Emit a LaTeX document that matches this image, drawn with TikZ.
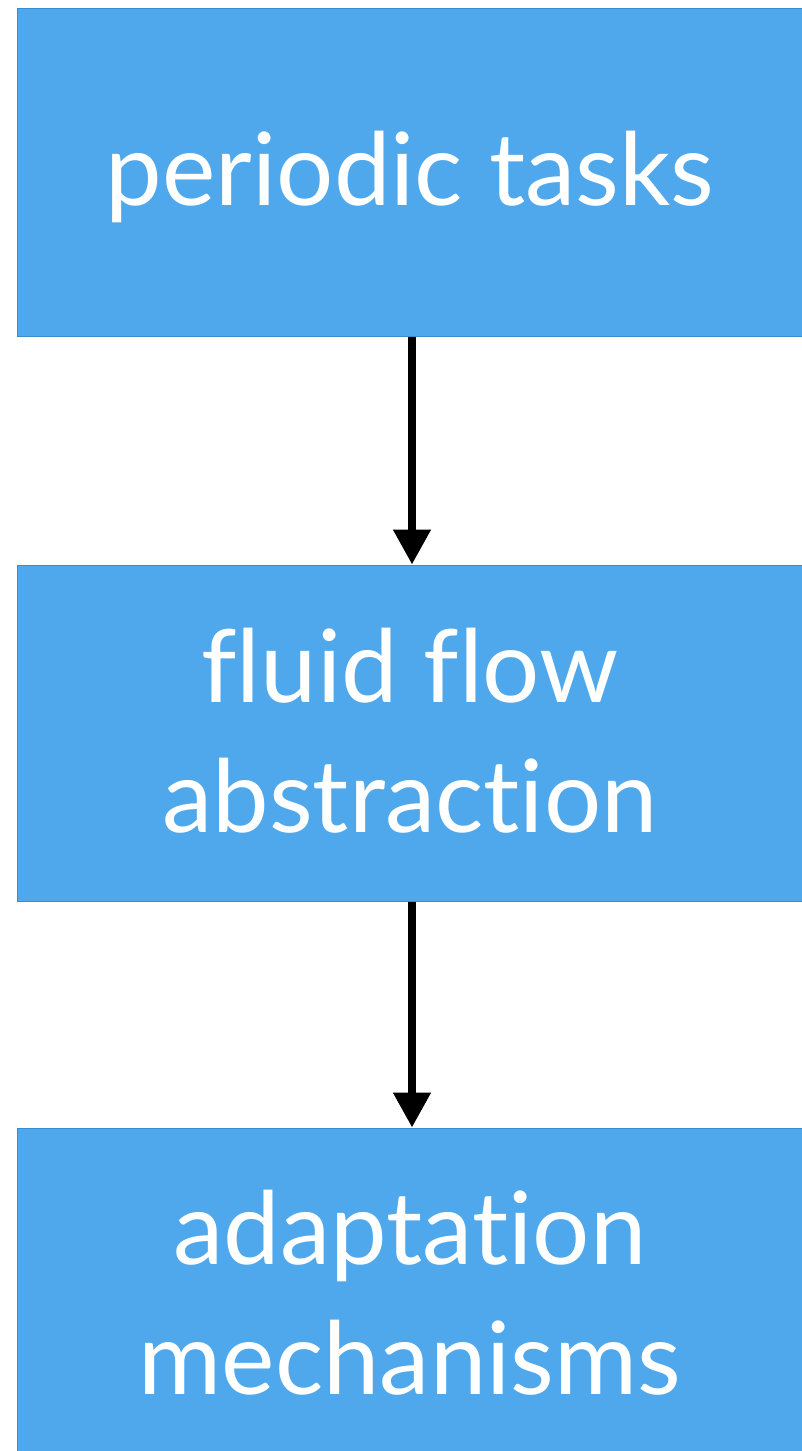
\documentclass[tikz,border=0pt]{standalone}
\usepackage{fontspec}
\setmainfont[Ligatures=NoCommon]{Lato}
\usetikzlibrary{arrows.meta}
\definecolor{boxblue}{HTML}{4FA8EB}
\definecolor{boxedge}{HTML}{3C8CCB}
\tikzset{
  box/.style={draw=boxedge, line width=1pt, fill=boxblue, minimum width=790pt, inner sep=0pt},
  lbl/.style={text=white, font=\fontsize{101}{130}\selectfont, align=center, inner sep=0pt},
  flow/.style={line width=8pt, -{Triangle[length=35pt,width=36pt]}}
}
\begin{document}
\begin{tikzpicture}[x=1pt,y=1pt]
\useasboundingbox (0,0) rectangle (802,-1451);
\clip (0,0) rectangle (802,-1451);
\node[box, minimum height=328pt] (top) at (412,-172) {};
\node[box, minimum height=336pt] (mid) at (412,-733) {};
\node[box, minimum height=336pt] (bot) at (412,-1296) {};
\node[lbl] (topt) at (410,-177) {periodic tasks};
\node[lbl] (midt) at (410,-731) {fluid flow\\abstraction};
\node[lbl] (bott) at (410,-1293) {adaptation\\mechanisms};
\draw[flow] (top.south) -- (mid.north);
\draw[flow] (mid.south) -- (bot.north);
\end{tikzpicture}
\end{document}
